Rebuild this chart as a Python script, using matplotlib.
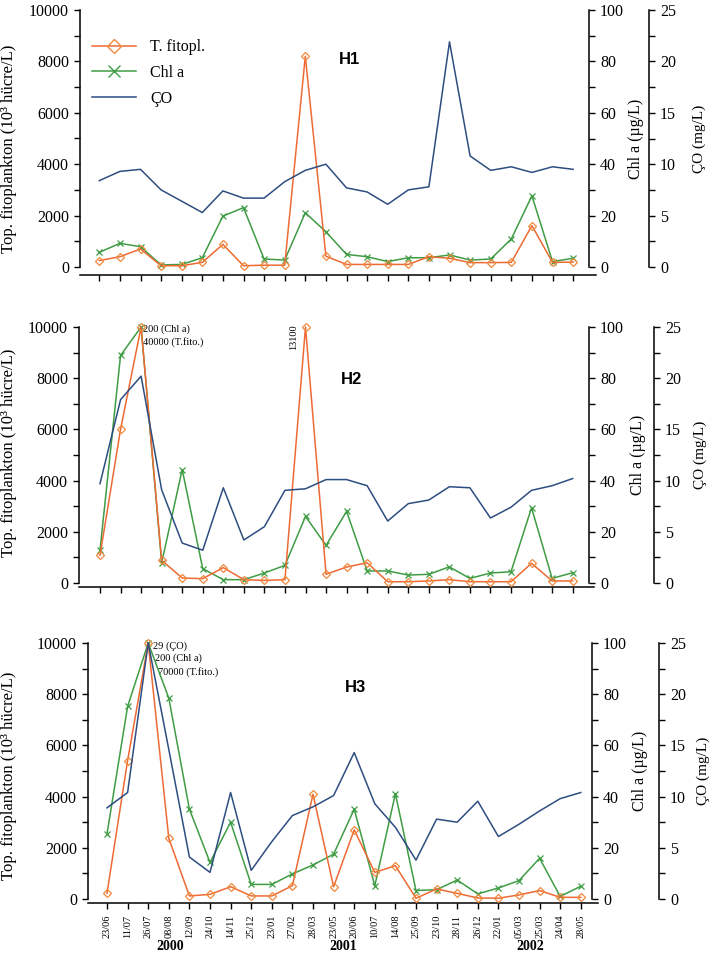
import numpy as np
import matplotlib
matplotlib.use("Agg")
import matplotlib.pyplot as plt
from matplotlib.ticker import MultipleLocator
from matplotlib.lines import Line2D

plt.rcParams["font.family"] = ["Liberation Serif", "DejaVu Serif"]

# sampling dates, June 2000 - May 2002
dates = ["23/06", "11/07", "26/07", "08/08", "12/09", "24/10", "14/11", "25/12",
         "23/01", "27/02", "28/03", "23/05", "20/06", "10/07", "14/08", "25/09",
         "23/10", "28/11", "26/12", "22/01", "05/03", "25/03", "24/04", "28/05"]

# total phytoplankton (10^3 cells/L)
tf_h1 = [250, 400, 700, 50, 50, 180, 880, 50, 70, 70, 8200, 420,
         100, 100, 100, 100, 400, 340, 170, 170, 180, 1610, 180, 190]
tf_h2 = [1080, 6000, 40000, 885, 195, 170, 600, 130, 100, 130, 13100, 340,
         625, 790, 50, 50, 80, 130, 50, 50, 50, 770, 80, 80]
tf_h3 = [220, 5410, 70000, 2370, 120, 180, 480, 120, 120, 520, 4090, 480,
         2700, 1040, 1300, 30, 390, 220, 40, 30, 160, 330, 65, 65]

# chlorophyll a (ug/L)
chl_h1 = [5.7, 9.2, 7.9, 0.8, 1.0, 3.6, 19.8, 23.1, 3.1, 2.7, 21.1, 13.7,
          4.9, 4.0, 2.1, 3.6, 3.6, 4.7, 2.7, 3.1, 10.9, 27.7, 2.1, 3.4]
chl_h2 = [12.8, 88.9, 200, 7.9, 44.3, 5.6, 1.3, 1.3, 3.9, 6.9, 26.0, 14.7,
          28.0, 4.7, 4.7, 3.1, 3.4, 6.3, 1.8, 3.9, 4.4, 29.4, 1.8, 4.0]
chl_h3 = [25.4, 75.2, 200, 78.5, 35.1, 14.3, 30.0, 5.7, 5.7, 9.8, 13.3, 17.5,
          35.1, 5.2, 41.1, 3.3, 3.65, 7.4, 2.0, 4.3, 7.2, 15.9, 1.0, 5.0]

# dissolved oxygen (mg/L)
co_h1 = [8.4, 9.3, 9.5, 7.5, 6.4, 5.3, 7.4, 6.7, 6.7, 8.3, 9.4, 10.0,
         7.7, 7.3, 6.1, 7.5, 7.8, 21.9, 10.8, 9.4, 9.75, 9.2, 9.75, 9.5]
co_h2 = [9.7, 17.9, 20.2, 9.1, 3.9, 3.2, 9.3, 4.2, 5.5, 9.05, 9.2, 10.1,
         10.1, 9.5, 6.05, 7.75, 8.1, 9.4, 9.3, 6.35, 7.4, 9.05, 9.5, 10.2]
co_h3 = [8.9, 10.4, 29, 14.6, 4.1, 2.6, 10.4, 2.8, 5.6, 8.15, 9.0, 10.1,
         14.3, 9.3, 7.0, 3.8, 7.8, 7.5, 9.55, 6.1, 7.3, 8.6, 9.8, 10.4]

years = ["2000", "2001", "2002"]
year_pos = [3.06, 11.46, 20.53]

C_TF = "#ee6a34"
C_TF_M = "#f08a3c"
C_CHL = "#3f9c44"
C_CO = "#2e4d80"

W, H = 709, 958
fig = plt.figure(figsize=(W / 100, H / 100), dpi=100)

# pixel layout of each panel: left, right, top(max), bottom(0), chl spine, co spine,
# first tick x, tick step, x-axis offset
panels = [
    dict(name="H1", tf=tf_h1, chl=chl_h1, co=co_h1, l=80, r=596, t=10, b=267,
         chl_x=589, co_x=649, x0=99.3, dx=20.6, off=8, title=(349, 60),
         ylab_y=0.46, chl_lab=628, co_lab=693),
    dict(name="H2", tf=tf_h2, chl=chl_h2, co=co_h2, l=79, r=594, t=327, b=583,
         chl_x=589, co_x=654, x0=100, dx=20.55, off=4, title=(351, 380),
         ylab_y=0.51, chl_lab=630, co_lab=694),
    dict(name="H3", tf=tf_h3, chl=chl_h3, co=co_h3, l=88, r=598, t=643, b=899,
         chl_x=592, co_x=659, x0=107, dx=20.6, off=4, title=(356, 687),
         ylab_y=0.48, chl_lab=632, co_lab=697),
]

x = np.arange(len(dates))

for k, p in enumerate(panels):
    wpx = p["r"] - p["l"]
    ax = fig.add_axes([p["l"] / W, 1 - p["b"] / H, wpx / W, (p["b"] - p["t"]) / H])
    ax.patch.set_visible(False)
    ax.set_xlim((p["l"] - p["x0"]) / p["dx"], (p["r"] - p["x0"]) / p["dx"])
    ax.set_ylim(0, 10000)
    for s in ["top", "right"]:
        ax.spines[s].set_visible(False)
    ax.spines["bottom"].set_position(("outward", p["off"] * 0.72))
    ax.spines["left"].set_linewidth(1.1)
    ax.spines["bottom"].set_linewidth(1.1)
    ax.yaxis.set_major_locator(MultipleLocator(2000))
    ax.yaxis.set_minor_locator(MultipleLocator(1000))
    ax.tick_params(axis="y", which="both", direction="out", labelsize=11.5, width=1.0)
    ax.tick_params(axis="y", which="major", length=4.5)
    ax.tick_params(axis="y", which="minor", length=4)
    ax.set_xticks(x)
    ax.tick_params(axis="x", direction="out", length=4.5, width=1.0)
    if k == 2:
        ax.set_xticklabels(dates, rotation=90, fontsize=7.5)
        ax.tick_params(axis="x", pad=4)
        for yl, yp in zip(years, year_pos):
            ax.text(yp, -0.185, yl, transform=ax.get_xaxis_transform(),
                    ha="center", va="center", fontsize=10, fontweight="bold")
    else:
        ax.set_xticklabels([])

    ax.set_ylabel("Top. fitoplankton (10³ hücre/L)", fontsize=12)
    ax.yaxis.set_label_coords((17 - p["l"]) / wpx, p["ylab_y"])

    # Chl a axis
    ax2 = ax.twinx()
    ax2.set_ylim(0, 100)
    for s in ["top", "left", "bottom"]:
        ax2.spines[s].set_visible(False)
    ax2.spines["right"].set_position(("axes", (p["chl_x"] - p["l"]) / wpx))
    ax2.spines["right"].set_linewidth(1.1)
    ax2.yaxis.set_major_locator(MultipleLocator(20))
    ax2.yaxis.set_minor_locator(MultipleLocator(10))
    ax2.tick_params(axis="y", which="both", direction="out", labelsize=11.5, width=1.0)
    ax2.tick_params(axis="y", which="major", length=4.5)
    ax2.tick_params(axis="y", which="minor", length=4)
    ax2.set_ylabel("Chl a (µg/L)", fontsize=11.5)
    ax2.yaxis.set_label_coords((p["chl_lab"] - p["l"]) / wpx, 0.5)

    # dissolved oxygen axis
    ax3 = ax.twinx()
    ax3.set_ylim(0, 25)
    for s in ["top", "left", "bottom"]:
        ax3.spines[s].set_visible(False)
    ax3.spines["right"].set_position(("axes", (p["co_x"] - p["l"]) / wpx))
    ax3.spines["right"].set_linewidth(1.1)
    ax3.yaxis.set_major_locator(MultipleLocator(5))
    ax3.yaxis.set_minor_locator(MultipleLocator(2.5))
    ax3.tick_params(axis="y", which="both", direction="out", labelsize=11.5, width=1.0)
    ax3.tick_params(axis="y", which="major", length=4.5)
    ax3.tick_params(axis="y", which="minor", length=4)
    ax3.set_ylabel("ÇO (mg/L)", fontsize=11)
    ax3.yaxis.set_label_coords((p["co_lab"] - p["l"]) / wpx, 0.5)

    # values above the axis tops are drawn at the top and labelled
    ax3.plot(x, np.minimum(p["co"], 25), color=C_CO, lw=1.1, clip_on=False)
    ax2.plot(x, np.minimum(p["chl"], 100), color=C_CHL, lw=1.1, marker="x",
             ms=5, mew=0.9, clip_on=False)
    ax2.plot(x, np.minimum(p["tf"], 10000) / 100, color=C_TF, lw=1.1, marker="D",
             ms=4, mfc="none", mec=C_TF_M, mew=0.9, clip_on=False)

    ax.text(p["title"][0], H - p["title"][1], p["name"], transform=None,
            fontsize=12, fontweight="bold", family="Liberation Sans",
            ha="center", va="center")

    if k == 0:
        handles = [
            Line2D([], [], color=C_TF, lw=1.1, marker="D", ms=7, mfc="none", mec=C_TF_M),
            Line2D([], [], color=C_CHL, lw=1.1, marker="x", ms=9, mew=1.0),
            Line2D([], [], color=C_CO, lw=1.1),
        ]
        ax.legend(handles, ["T. fitopl.", "Chl a", "ÇO"], loc="upper left",
                  bbox_to_anchor=((86 - p["l"]) / wpx, (p["b"] - 33) / (p["b"] - p["t"])),
                  frameon=False, fontsize=11.5, handlelength=2.7, handletextpad=0.9,
                  labelspacing=0.6, borderaxespad=0)
    if k == 1:
        i = int(np.argmax(p["tf"]))
        j = 10
        ax.text(2.09, 9900, f"{p['chl'][2]:.0f} (Chl a)", fontsize=7.5, va="center")
        ax.text(2.09, 9400, f"{p['tf'][i]:.0f} (T.fito.)", fontsize=7.5, va="center")
        ax.text(9.44, 9600, f"{p['tf'][j]:.0f}", fontsize=7.5, rotation=90,
                ha="center", va="center")
    if k == 2:
        ax.text(2.23, 9880, f"{p['co'][2]:.0f} (ÇO)", fontsize=7.5, va="center")
        ax.text(2.33, 9410, f"{p['chl'][2]:.0f} (Chl a)", fontsize=7.5, va="center")
        ax.text(2.48, 8870, f"{p['tf'][2]:.0f} (T.fito.)", fontsize=7.5, va="center")

fig.savefig("out.png", dpi=100)
